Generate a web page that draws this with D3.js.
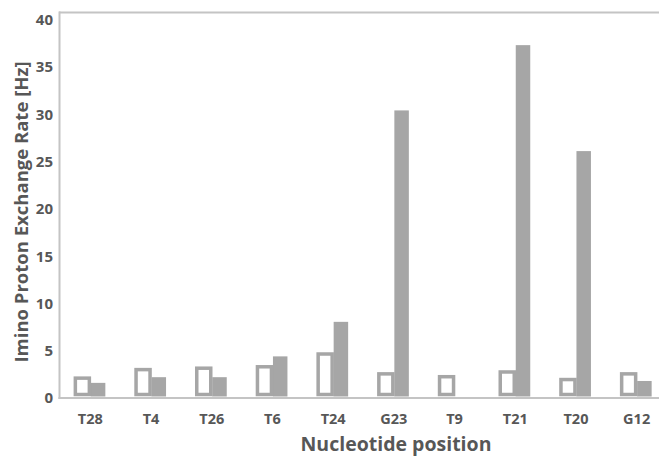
<!DOCTYPE html>
<html>
<head>
<meta charset="utf-8">
<script src="https://cdn.jsdelivr.net/npm/d3@7"></script>
<style>
  body { margin: 0; background: #fff; }
  svg { display: block; }
  .tick_lbl { font-family: "Open Sans", sans-serif; font-weight: 700; fill: #575757; }
</style>
</head>
<body>
<div id="chart"></div>
<script>
const categories = ["T28", "T4", "T26", "T6", "T24", "G23", "T9", "T21", "T20", "G12"]
const open_values = [2.1, 3.0, 3.15, 3.3, 4.65, 2.55, 2.25, 2.75, 1.95, 2.55]
const filled_values = [1.6, 2.2, 2.2, 4.4, 8.05, 30.4, 0, 37.3, 26.1, 1.8]
const y_ticks = [0, 5, 10, 15, 20, 25, 30, 35, 40]

const width = 659, height = 457
const svg = d3.select("#chart").append("svg")
    .attr("width", width)
    .attr("height", height)

const x = d3.scaleBand()
    .domain(categories)
    .range([60, 667])
    .paddingInner(0)
    .paddingOuter(0)

const y = d3.scaleLinear()
    .domain([0, 40])
    .range([398, 19.6])

const grey = "#a6a6a6"
const axis_grey = "#c4c4c4"

// frame: top and left
svg.append("line")
    .attr("x1", 59).attr("x2", width)
    .attr("y1", 12.5).attr("y2", 12.5)
    .attr("stroke", axis_grey).attr("stroke-width", 2)
svg.append("line")
    .attr("x1", 59.5).attr("x2", 59.5)
    .attr("y1", 11.5).attr("y2", 399)
    .attr("stroke", axis_grey).attr("stroke-width", 2)

// filled bars
svg.selectAll(".bar_filled")
    .data(categories)
    .enter()
    .append("rect")
    .attr("class", "bar_filled")
    .attr("fill", grey)
    .attr("x", (d) => x(d) + x.bandwidth() / 2 + 0.5)
    .attr("width", 14.5)
    .attr("y", (d, i) => y(filled_values[i]))
    .attr("height", (d, i) => Math.max(0, y(0) - 1.5 - y(filled_values[i])))

// open bars
svg.selectAll(".bar_open")
    .data(categories)
    .enter()
    .append("rect")
    .attr("class", "bar_open")
    .attr("fill", "#fff")
    .attr("stroke", grey)
    .attr("stroke-width", 3.5)
    .attr("x", (d) => x(d) + x.bandwidth() / 2 - 15)
    .attr("width", 14)
    .attr("y", (d, i) => y(open_values[i]))
    .attr("height", (d, i) => y(0) - 3.5 - y(open_values[i]))

// bottom axis line
svg.append("line")
    .attr("x1", 58.5).attr("x2", width)
    .attr("y1", 398).attr("y2", 398)
    .attr("stroke", axis_grey).attr("stroke-width", 2)

// y tick labels
svg.selectAll(".y_lbl")
    .data(y_ticks)
    .enter()
    .append("text")
    .attr("class", "tick_lbl")
    .attr("x", 53)
    .attr("y", (d) => y(d))
    .attr("dy", "0.36em")
    .attr("text-anchor", "end")
    .style("font-size", "15px")
    .text((d) => d)

// x tick labels
svg.selectAll(".x_lbl")
    .data(categories)
    .enter()
    .append("text")
    .attr("class", "tick_lbl")
    .attr("x", (d) => x(d) + x.bandwidth() / 2)
    .attr("y", 424)
    .attr("text-anchor", "middle")
    .style("font-size", "14.5px")
    .text((d) => d)

// axis titles
svg.append("text")
    .attr("class", "tick_lbl")
    .attr("x", 396)
    .attr("y", 451)
    .attr("text-anchor", "middle")
    .style("font-size", "19.5px")
    .text("Nucleotide position")

svg.append("text")
    .attr("class", "tick_lbl")
    .attr("transform", "translate(28,212) rotate(-90)")
    .attr("text-anchor", "middle")
    .style("font-size", "18.5px")
    .text("Imino Proton Exchange Rate [Hz]")
</script>
</body>
</html>
